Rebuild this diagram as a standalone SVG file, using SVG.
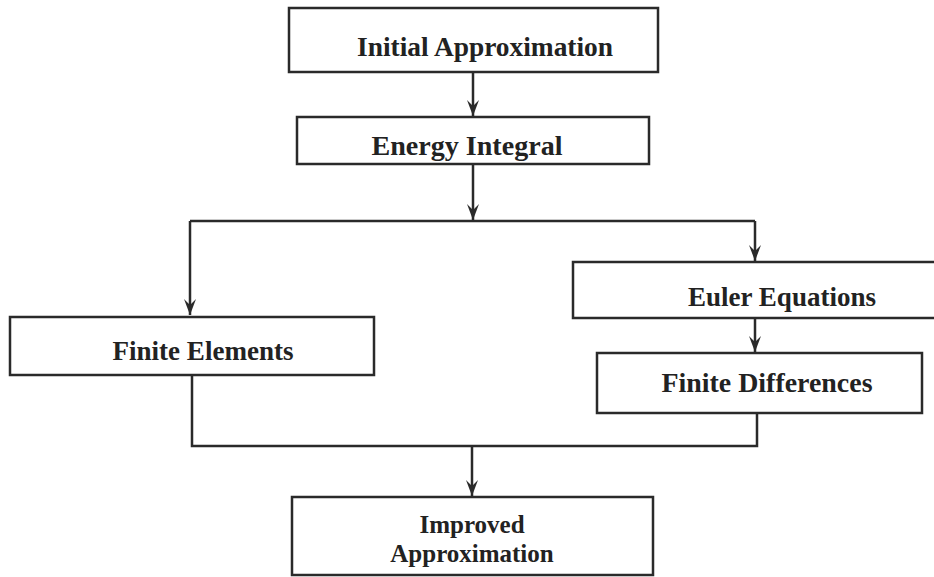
<svg xmlns="http://www.w3.org/2000/svg" width="934" height="577" viewBox="0 0 934 577">
<style>
.box{fill:#fff;stroke:#2a2a2a;stroke-width:2.5}
.lbl{font-family:"Liberation Serif","Times New Roman",serif;font-weight:bold;font-size:28px;fill:#222;text-anchor:middle}
.sm{font-size:25px}
.ln{fill:none;stroke:#2a2a2a;stroke-width:2.5}
</style>
<defs>
<marker id="ah" markerUnits="userSpaceOnUse" markerWidth="18" markerHeight="14" refX="16" refY="7" orient="auto" viewBox="0 0 18 14">
<path d="M0,1 L16,7 L0,13 L6,7 Z" fill="#2a2a2a"/>
</marker>
</defs>
<rect width="934" height="577" fill="#fff"/>
<g id="connectors">
<path class="ln" d="M473,72 V116" marker-end="url(#ah)"/>
<path class="ln" d="M473,164 V220" marker-end="url(#ah)"/>
<path class="ln" d="M190,221 H755"/>
<path class="ln" d="M190,221 V315" marker-end="url(#ah)"/>
<path class="ln" d="M755,221 V261" marker-end="url(#ah)"/>
<path class="ln" d="M755,318 V352" marker-end="url(#ah)"/>
<path class="ln" d="M192,375 V446 H757 V413"/>
<path class="ln" d="M472,446 V496" marker-end="url(#ah)"/>
</g>
<g id="initial">
<rect class="box" x="289" y="8" width="369" height="64"/>
<text class="lbl" x="485" y="56" textLength="256" lengthAdjust="spacingAndGlyphs">Initial  Approximation</text>
</g>
<g id="energy">
<rect class="box" x="297" y="117" width="352" height="47"/>
<text class="lbl" x="467" y="155" textLength="191" lengthAdjust="spacingAndGlyphs">Energy  Integral</text>
</g>
<g id="finite-elements">
<rect class="box" x="10" y="317" width="364" height="58"/>
<text class="lbl" x="203" y="360" textLength="181" lengthAdjust="spacingAndGlyphs">Finite Elements</text>
</g>
<g id="euler">
<path class="box" d="M940,262 H573 V318 H940"/>
<text class="lbl" x="782" y="306" textLength="188" lengthAdjust="spacingAndGlyphs">Euler Equations</text>
</g>
<g id="finite-differences">
<rect class="box" x="597" y="353" width="325" height="60"/>
<text class="lbl" x="767" y="392" textLength="211" lengthAdjust="spacingAndGlyphs">Finite  Differences</text>
</g>
<g id="improved">
<rect class="box" x="292" y="497" width="361" height="78"/>
<text class="lbl sm" x="472" y="533">Improved</text>
<text class="lbl sm" x="472" y="562">Approximation</text>
</g>
</svg>
